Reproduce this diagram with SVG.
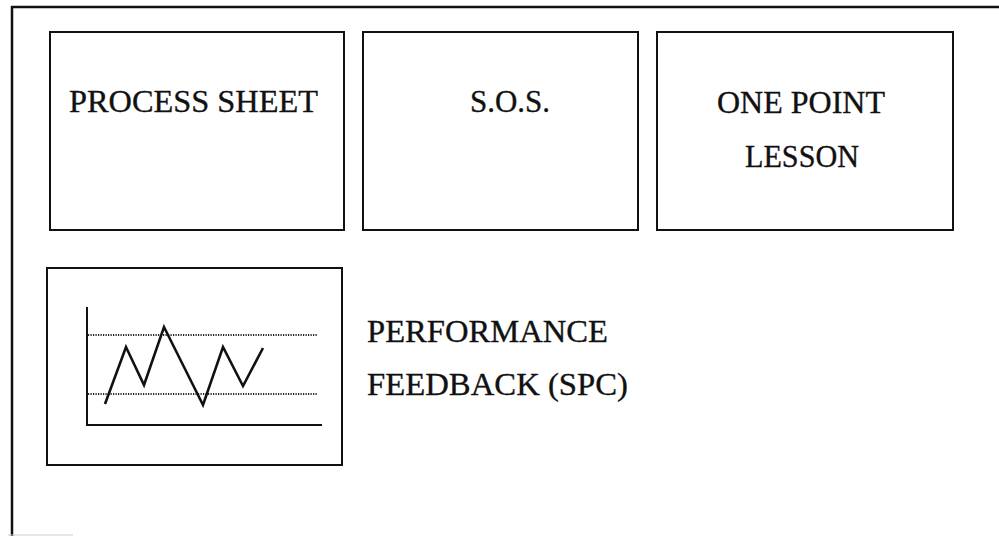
<svg xmlns="http://www.w3.org/2000/svg" width="999" height="536" viewBox="0 0 999 536">
<style>
.box{fill:none;stroke:#111;stroke-width:2}
.t{font-family:"Liberation Serif","Times New Roman",serif;font-size:32px;fill:#111;stroke:#111;stroke-width:0.35}
.ax{stroke:#111;stroke-width:2;fill:none}
.dot{stroke:#222;stroke-width:1.8;stroke-dasharray:1.2 1.3;fill:none}
.zz{stroke:#111;stroke-width:2.6;fill:none;stroke-linejoin:miter}
</style>
<rect width="999" height="536" fill="#fff"/>
<g id="frame">
<line x1="11" y1="7" x2="999" y2="7" stroke="#111" stroke-width="2.5"/>
<line x1="12" y1="6" x2="12" y2="536" stroke="#111" stroke-width="2.5"/>
<line x1="8" y1="535" x2="73" y2="535" stroke="#ccc" stroke-width="1"/>
</g>
<g id="process-sheet">
<rect class="box" x="50" y="32" width="294" height="198"/>
<text class="t" x="69" y="112" textLength="249" lengthAdjust="spacingAndGlyphs">PROCESS SHEET</text>
</g>
<g id="sos">
<rect class="box" x="363" y="32" width="275" height="198"/>
<text class="t" x="470" y="112" textLength="80" lengthAdjust="spacingAndGlyphs">S.O.S.</text>
</g>
<g id="one-point-lesson">
<rect class="box" x="657" y="32" width="296" height="198"/>
<text class="t" x="717" y="113" textLength="168" lengthAdjust="spacingAndGlyphs">ONE POINT</text>
<text class="t" x="745" y="167" textLength="114" lengthAdjust="spacingAndGlyphs">LESSON</text>
</g>
<g id="performance-feedback">
<rect class="box" x="47" y="268" width="295" height="197"/>
<line class="dot" x1="88" y1="335" x2="318" y2="335"/>
<line class="dot" x1="88" y1="394" x2="318" y2="394"/>
<polyline class="ax" points="87,307 87,425 322,425"/>
<polyline class="zz" points="105,404 126,347 144,385 164,327 203,405 223,347 243,386 263,348"/>
<text class="t" x="367" y="342" textLength="241" lengthAdjust="spacingAndGlyphs">PERFORMANCE</text>
<text class="t" x="367" y="395" textLength="261" lengthAdjust="spacingAndGlyphs">FEEDBACK (SPC)</text>
</g>
<g id="connectors"></g>
</svg>
